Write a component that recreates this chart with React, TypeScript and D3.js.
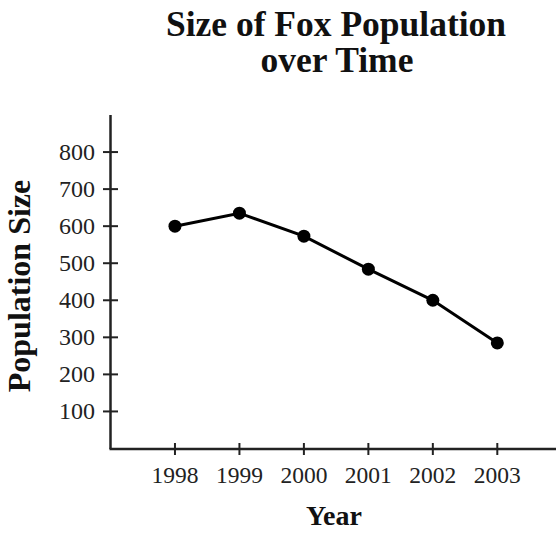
import React from "react";
import * as d3 from "d3";

const years = [1998, 1999, 2000, 2001, 2002, 2003];
const population = [600, 635, 573, 484, 400, 285];
const yTicks = [100, 200, 300, 400, 500, 600, 700, 800];
const titleLines = ["Size of Fox Population", "over Time"];
const xLabel = "Year";
const yLabel = "Population Size";

const W = 556;
const H = 534;
const FONT = "'Liberation Serif', 'Times New Roman', serif";

export default function App() {
  const x = d3.scaleLinear().domain([1997, 2003]).range([110.5, 497.3]);
  const y = d3.scaleLinear().domain([0, 900]).range([448.5, 115]);
  const pts = years.map((yr, i) => [x(yr), y(population[i])] as [number, number]);
  const line = d3.line<[number, number]>()(pts) || "";

  return (
    <svg
      width={W}
      height={H}
      style={{ position: "absolute", left: 0, top: 0, background: "#fff" }}
      fontFamily={FONT}
    >
      <rect width={W} height={H} fill="#fff" />
      {/* Title */}
      <text x={336} y={36} textAnchor="middle" fontSize={35.5} fontWeight="bold" fill="#111">
        {titleLines[0]}
      </text>
      <text x={337} y={72} textAnchor="middle" fontSize={35.5} fontWeight="bold" fill="#111">
        {titleLines[1]}
      </text>

      {/* Axes */}
      <line x1={110.5} y1={115} x2={110.5} y2={449} stroke="#222" strokeWidth={2.5} />
      <line x1={109.5} y1={449} x2={W} y2={449} stroke="#222" strokeWidth={2.5} />

      {yTicks.map((t) => (
        <g key={t}>
          <line x1={103} x2={118} y1={y(t)} y2={y(t)} stroke="#222" strokeWidth={2} />
          <text
            x={95}
            y={y(t)}
            textAnchor="end"
            dominantBaseline="central"
            fontSize={24}
            fill="#222"
          >
            {t}
          </text>
        </g>
      ))}

      {years.map((yr) => (
        <g key={yr}>
          <line x1={x(yr)} x2={x(yr)} y1={443} y2={455} stroke="#222" strokeWidth={2} />
          <text x={x(yr)} y={483} textAnchor="middle" fontSize={23.5} fill="#222">
            {yr}
          </text>
        </g>
      ))}

      {/* Axis labels */}
      <text x={334} y={525} textAnchor="middle" fontSize={28} fontWeight="bold" fill="#111">
        {xLabel}
      </text>
      <text
        transform={`translate(30,286) rotate(-90)`}
        textAnchor="middle"
        fontSize={32}
        fontWeight="bold"
        fill="#111"
      >
        {yLabel}
      </text>

      {/* Data */}
      <path d={line} fill="none" stroke="#000" strokeWidth={3} />
      {pts.map((p, i) => (
        <circle key={i} cx={p[0]} cy={p[1]} r={6.5} fill="#000" />
      ))}
    </svg>
  );
}
